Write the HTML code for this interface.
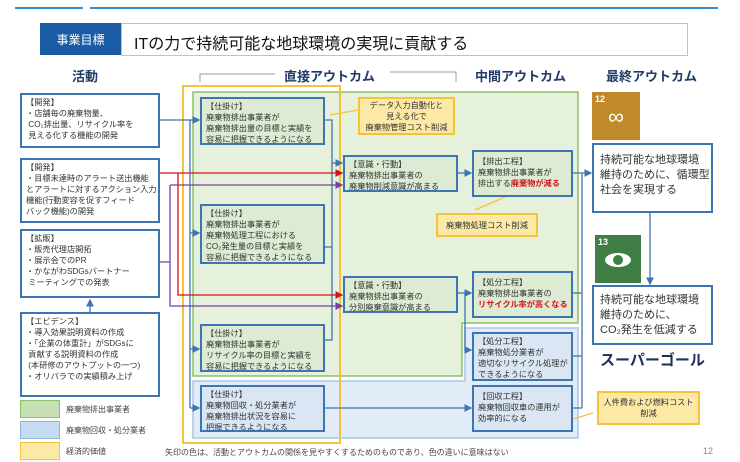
<!DOCTYPE html>
<html><head><meta charset="utf-8"><style>
body{margin:0;width:740px;height:462px;background:#fff;position:relative;overflow:hidden;font-family:"Liberation Sans","Noto Sans CJK JP",sans-serif;}
.a{position:absolute;box-sizing:border-box;}
.bx{position:absolute;box-sizing:border-box;border:2px solid #3d74b3;font-size:8.2px;line-height:11px;color:#333;padding:2px 4px;white-space:nowrap;overflow:hidden;}
.w{background:#fff;}.g{background:#dcebd2;}.b{background:#dae6f4;}
.y{position:absolute;box-sizing:border-box;background:#fde9a6;border:2px solid #f5c23c;font-size:8.2px;line-height:11px;color:#333;text-align:center;display:flex;align-items:center;justify-content:center;}
.h{position:absolute;font-weight:bold;font-size:13px;color:#1f3b66;}
.red{color:#d4121a;font-weight:bold;}
</style></head><body>
<svg class="a" style="left:0;top:0" width="740" height="462">
<line x1="15" y1="8" x2="83" y2="8" stroke="#3a8fd0" stroke-width="2"/>
<line x1="90" y1="8" x2="718" y2="8" stroke="#3a8fd0" stroke-width="2"/>
<path d="M200 82 V74 H275 M390 72 H456 V82" fill="none" stroke="#8aa0b8" stroke-width="1"/>
<polygon points="193,92 578,92 578,323 462,323 462,376 193,376" fill="#e6f1dc" stroke="#8cc06a" stroke-width="1.5"/>
<polygon points="193,381 465,381 465,328 578,328 578,438 193,438" fill="#e2ecf7" stroke="#a9c6e6" stroke-width="1.5"/>
<rect x="183" y="86" width="157" height="357" fill="none" stroke="#f5c23c" stroke-width="2"/>
<defs>
<marker id="mb" markerWidth="6" markerHeight="6" refX="5" refY="3" orient="auto"><path d="M0,0 L6,3 L0,6z" fill="#3d74b3"/></marker>
<marker id="mr" markerWidth="6" markerHeight="6" refX="5" refY="3" orient="auto"><path d="M0,0 L6,3 L0,6z" fill="#d4121a"/></marker>
<marker id="mp" markerWidth="6" markerHeight="6" refX="5" refY="3" orient="auto"><path d="M0,0 L6,3 L0,6z" fill="#7a3fa0"/></marker></defs>
<g stroke="#3d74b3" stroke-width="1.3" fill="none">
<path d="M160 120 H199" marker-end="url(#mb)"/>
<path d="M190 120 V408"/>
<path d="M190 233 H199" marker-end="url(#mb)"/>
<path d="M190 349 H199" marker-end="url(#mb)"/>
<path d="M190 408 H199" marker-end="url(#mb)"/>
<path d="M325 120 H332 V340 H325 M325 247 H332"/>
<path d="M332 163 H342" marker-end="url(#mb)"/>
<path d="M458 173 H471" marker-end="url(#mb)"/>
<path d="M458 293 H471" marker-end="url(#mb)"/>
<path d="M465 293 V350 H471" marker-end="url(#mb)"/>
<path d="M325 408 H471" marker-end="url(#mb)"/>
<path d="M573 173 H591" marker-end="url(#mb)"/>
<path d="M573 293 H582 M573 356 H582 M573 408 H582 M582 173 V408"/>
<path d="M650 213 V284" marker-end="url(#mb)"/>
<path d="M90 312 V300" marker-end="url(#mb)"/>
</g>
<g stroke="#d4121a" stroke-width="1.3" fill="none">
<path d="M160 173 H342" marker-end="url(#mr)"/>
<path d="M178 173 V295 H342" marker-end="url(#mr)"/>
</g>
<g stroke="#7a3fa0" stroke-width="1.3" fill="none">
<path d="M170 185 H342" marker-end="url(#mp)"/>
<path d="M160 262 H170 M170 185 V306 H342" marker-end="url(#mp)"/>
</g>
<g stroke="#f5c23c" stroke-width="1.3"><line x1="330" y1="115" x2="358" y2="110"/><line x1="475" y1="210" x2="505" y2="197"/><line x1="560" y1="423" x2="593" y2="413"/></g>
</svg>
<div class="a" style="left:40px;top:23px;width:81px;height:32px;background:#1a5ba6;color:#fff;font-size:12px;display:flex;align-items:center;justify-content:center;">事業目標</div>
<div class="a" style="left:121px;top:23px;width:567px;height:33px;border:1px solid #a9c6e6;font-size:16px;padding:6px 12px;color:#111;">ITの力で持続可能な地球環境の実現に貢献する</div>
<div class="h" style="left:72px;top:66px;">活動</div>
<div class="h" style="left:284px;top:66px;">直接アウトカム</div>
<div class="h" style="left:475px;top:66px;">中間アウトカム</div>
<div class="h" style="left:606px;top:66px;">最終アウトカム</div>

<div class="bx w" style="left:20px;top:93px;width:140px;height:55px;">【開発】<br>・店舗毎の廃棄物量、<br>&nbsp;CO₂排出量、リサイクル率を<br>&nbsp;見える化する機能の開発</div>
<div class="bx w" style="left:20px;top:158px;width:140px;height:65px;">【開発】<br>・目標未達時のアラート送出機能<br>とアラートに対するアクション入力<br>機能(行動変容を促すフィード<br>バック機能)の開発</div>
<div class="bx w" style="left:20px;top:229px;width:140px;height:69px;">【拡販】<br>・販売代理店開拓<br>・展示会でのPR<br>・かながわSDGsパートナー<br>&nbsp;ミーティングでの発表</div>
<div class="bx w" style="left:20px;top:312px;width:140px;height:85px;">【エビデンス】<br>・導入効果説明資料の作成<br>・「企業の体重計」がSDGsに<br>&nbsp;貢献する説明資料の作成<br>&nbsp;(本研修のアウトプットの一つ)<br>・オリパラでの実績積み上げ</div>
<div class="a" style="left:20px;top:400px;width:40px;height:18px;background:#c6e0b4;border:1px solid #8cc06a"></div>
<div class="a" style="left:20px;top:421px;width:40px;height:18px;background:#c5dbf0;border:1px solid #8fb4dd"></div>
<div class="a" style="left:20px;top:442px;width:40px;height:18px;background:#fde9a6;border:1px solid #f5c23c"></div>
<div class="a" style="left:66px;top:404px;font-size:8px;color:#444">廃棄物排出事業者</div>
<div class="a" style="left:66px;top:425px;font-size:8px;color:#444">廃棄物回収・処分業者</div>
<div class="a" style="left:66px;top:446px;font-size:8px;color:#444">経済的価値</div>

<div class="bx g" style="left:200px;top:97px;width:125px;height:48px;">【仕掛け】<br>廃棄物排出事業者が<br>廃棄物排出量の目標と実績を<br>容易に把握できるようになる</div>
<div class="bx g" style="left:200px;top:204px;width:125px;height:60px;">【仕掛け】<br>廃棄物排出事業者が<br>廃棄物処理工程における<br>CO₂発生量の目標と実績を<br>容易に把握できるようになる</div>
<div class="bx g" style="left:200px;top:324px;width:125px;height:48px;">【仕掛け】<br>廃棄物排出事業者が<br>リサイクル率の目標と実績を<br>容易に把握できるようになる</div>
<div class="bx b" style="left:200px;top:385px;width:125px;height:47px;">【仕掛け】<br>廃棄物回収・処分業者が<br>廃棄物排出状況を容易に<br>把握できるようになる</div>
<div class="y" style="left:358px;top:97px;width:97px;height:38px;">データ入力自動化と<br>見える化で<br>廃棄物管理コスト削減</div>
<div class="bx g" style="left:343px;top:155px;width:115px;height:37px;">【意識・行動】<br>廃棄物排出事業者の<br>廃棄物削減意識が高まる</div>
<div class="bx g" style="left:343px;top:276px;width:115px;height:37px;">【意識・行動】<br>廃棄物排出事業者の<br>分別廃棄意識が高まる</div>
<div class="bx g" style="left:472px;top:150px;width:101px;height:47px;padding-top:4px">【排出工程】<br>廃棄物排出事業者が<br>排出する<span class="red">廃棄物が減る</span></div>
<div class="y" style="left:436px;top:213px;width:102px;height:24px;">廃棄物処理コスト削減</div>
<div class="bx g" style="left:472px;top:271px;width:101px;height:47px;padding-top:4px">【処分工程】<br>廃棄物排出事業者の<br><span class="red">リサイクル率が高くなる</span></div>
<div class="bx b" style="left:472px;top:332px;width:101px;height:49px;">【処分工程】<br>廃棄物処分業者が<br>適切なリサイクル処理が<br>できるようになる</div>
<div class="bx b" style="left:472px;top:385px;width:101px;height:47px;padding-top:4px">【回収工程】<br>廃棄物回収車の運用が<br>効率的になる</div>

<div class="a" style="left:592px;top:92px;width:48px;height:48px;background:#c08a2b;color:#fff;font-size:9px;font-weight:bold;padding:2px 3px;">12<div style="font-size:22px;text-align:center;line-height:26px;font-weight:normal">∞</div></div>
<div class="bx w" style="left:592px;top:143px;width:121px;height:70px;font-size:11px;line-height:15px;padding:8px 6px;">持続可能な地球環境<br>維持のために、循環型<br>社会を実現する</div>
<div class="a" style="left:595px;top:235px;width:46px;height:48px;background:#3f7e44;color:#fff;font-size:9px;font-weight:bold;padding:2px 3px;">13<div style="margin:6px auto 0;width:26px;height:14px;background:#fff;border-radius:50%;position:relative"><div style="position:absolute;left:8px;top:2px;width:10px;height:10px;border-radius:50%;background:#3f7e44"></div></div></div>
<div class="bx w" style="left:592px;top:285px;width:121px;height:60px;font-size:11px;line-height:15px;padding:6px 6px;">持続可能な地球環境<br>維持のために、<br>CO₂発生を低減する</div>
<div class="a" style="left:600px;top:349px;font-size:15px;font-weight:bold;color:#1f2f5c;">スーパーゴール</div>
<div class="y" style="left:597px;top:391px;width:103px;height:34px;">人件費および燃料コスト<br>削減</div>
<div class="a" style="left:165px;top:447px;font-size:8px;color:#444;">矢印の色は、活動とアウトカムの関係を見やすくするためのものであり、色の違いに意味はない</div>
<div class="a" style="left:703px;top:446px;font-size:9px;color:#888;">12</div>
</body></html>
